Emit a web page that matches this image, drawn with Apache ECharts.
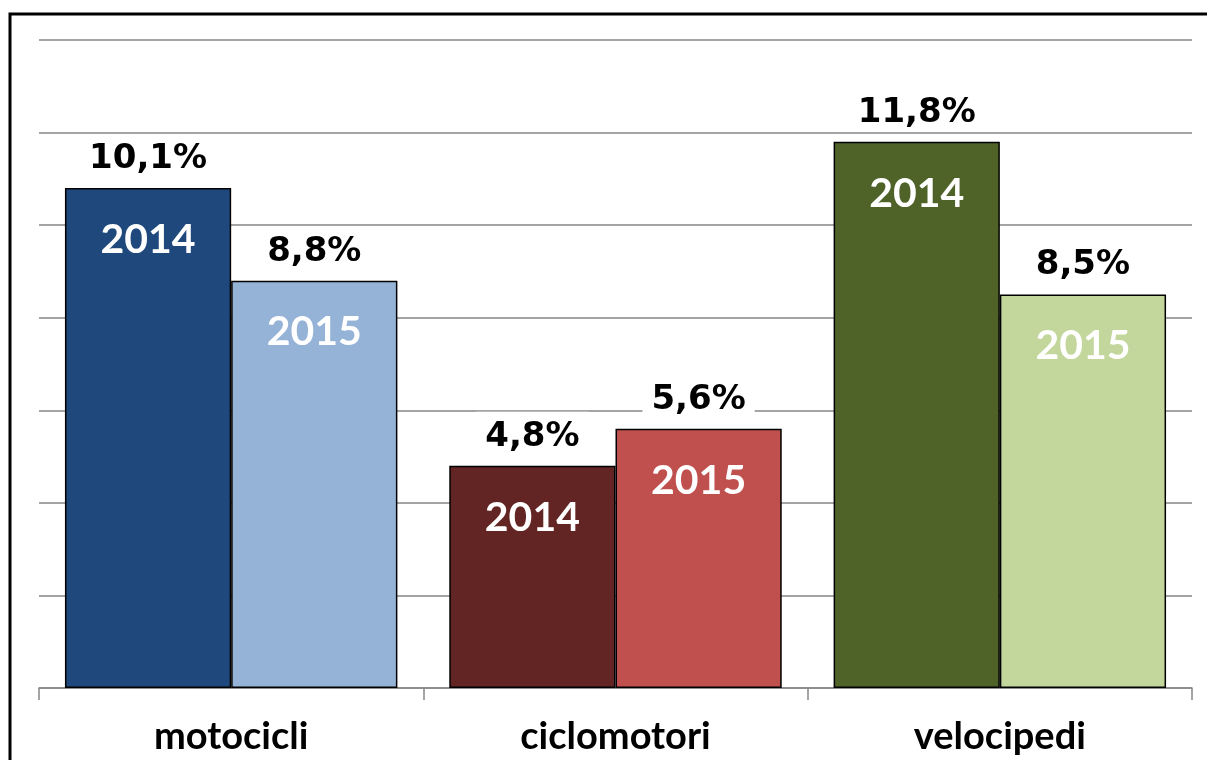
<!DOCTYPE html>
<html lang="it">
<head>
    <meta charset="UTF-8">
    <title>Veicoli 2014-2015</title>
    <script src="https://cdn.jsdelivr.net/npm/echarts@6/dist/echarts.min.js"></script>
    <style>
        html, body { margin: 0; padding: 0; background: #fff; }
        #main { width: 1207px; height: 760px; }
    </style>
</head>
<body>
<div id="main"></div>
<script>
    // dati
    const categorie = ['motocicli', 'ciclomotori', 'velocipedi'];
    const valori2014 = [10.8, 4.8, 11.8];
    const valori2015 = [8.8, 5.6, 8.5];
    const etichette2014 = ['10,1%', '4,8%', '11,8%'];
    const etichette2015 = ['8,8%', '5,6%', '8,5%'];
    const colori2014 = ['#1f497d', '#632523', '#4f6228'];
    const colori2015 = ['#95b3d7', '#c0504d', '#c3d69b'];

    const font = 'Lato, "DejaVu Sans", sans-serif';
    const fontValori = '"DejaVu Sans", sans-serif';
    const grigio = '#868686';

    // barre colorate con l'anno scritto dentro
    function serieBarre(nome, valori, colori) {
        return {
            name: nome,
            type: 'bar',
            xAxisIndex: 0,
            barGap: '0%',
            barCategoryGap: '13.5%',
            z: 2,
            data: valori.map(function (v, i) {
                return {
                    value: v,
                    itemStyle: {color: colori[i], borderColor: '#000', borderWidth: 1.5}
                };
            }),
            label: {
                show: true,
                position: 'insideTop',
                distance: 31,
                formatter: nome,
                color: '#fff',
                fontFamily: font,
                fontWeight: 'bold',
                fontSize: 41
            }
        };
    }

    // barre trasparenti su un secondo asse, solo per le percentuali sopra
    function serieEtichette(nome, valori, etichette) {
        return {
            name: nome + '-val',
            type: 'bar',
            xAxisIndex: 1,
            barGap: '0%',
            barCategoryGap: '13.5%',
            data: valori,
            itemStyle: {color: 'rgba(0,0,0,0)'},
            silent: true,
            z: 3,
            label: {
                show: true,
                position: 'top',
                distance: 10,
                formatter: function (p) { return etichette[p.dataIndex]; },
                color: '#000',
                fontFamily: fontValori,
                fontWeight: 'bold',
                fontSize: 34,
                backgroundColor: '#fff',
                padding: [8, 9, 2, 9]
            }
        };
    }

    let myChart = echarts.init(document.getElementById('main'));

    let option = {
        animation: false,
        backgroundColor: '#fff',
        grid: {left: 39, right: 15, top: 40, bottom: 72},
        xAxis: [{
            type: 'category',
            data: categorie,
            axisLine: {lineStyle: {color: grigio, width: 1.5}},
            axisTick: {show: true, length: 12, lineStyle: {color: grigio, width: 1.5}},
            axisLabel: {
                color: '#000',
                fontFamily: font,
                fontWeight: 'bold',
                fontSize: 38,
                margin: 30
            }
        }, {
            type: 'category',
            data: categorie,
            show: false
        }],
        yAxis: {
            type: 'value',
            min: 0,
            max: 14,
            interval: 2,
            axisLabel: {show: false},
            axisLine: {show: false},
            axisTick: {show: false},
            splitLine: {lineStyle: {color: grigio, width: 1.5}}
        },
        series: [
            serieBarre('2014', valori2014, colori2014),
            serieBarre('2015', valori2015, colori2015),
            serieEtichette('2014', valori2014, etichette2014),
            serieEtichette('2015', valori2015, etichette2015)
        ],
        graphic: [{
            type: 'rect',
            shape: {x: 10, y: 14, width: 1400, height: 900},
            style: {fill: 'none', stroke: '#000', lineWidth: 3},
            z: 100
        }]
    };
    myChart.setOption(option);
</script>
</body>
</html>
